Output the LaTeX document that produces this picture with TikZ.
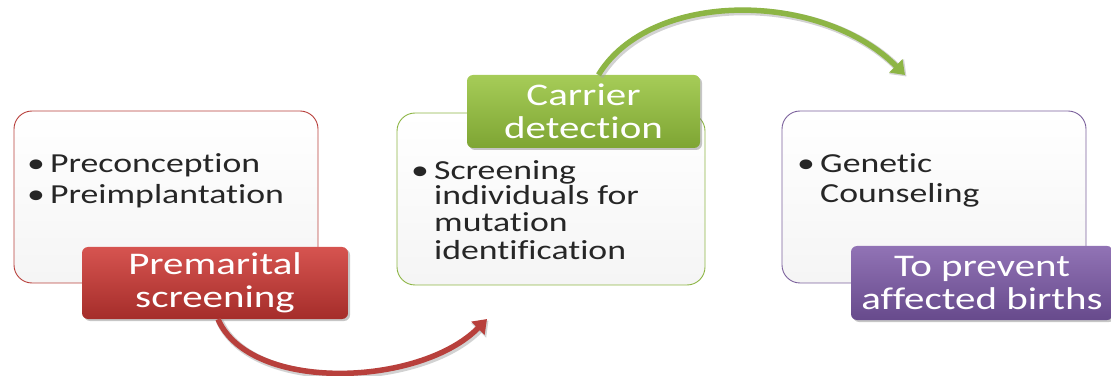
\documentclass[tikz,border=0pt]{standalone}
\usepackage{fontspec}
\setmainfont{Carlito}[FakeStretch=1.3, Ligatures={NoCommon}]
\usetikzlibrary{arrows.meta,shadows}
\definecolor{redT}{HTML}{D65450}
\definecolor{redB}{HTML}{A52D2A}
\definecolor{redL}{HTML}{B8403C}
\definecolor{grnT}{HTML}{A6CC58}
\definecolor{grnB}{HTML}{7EA533}
\definecolor{grnL}{HTML}{8DB545}
\definecolor{purT}{HTML}{9173B5}
\definecolor{purB}{HTML}{674A8C}
\definecolor{purL}{HTML}{7B619C}
\tikzset{
  box/.style={draw, rounded corners=18pt, line width=0.9pt, top color=white, bottom color=black!4},
  lab/.style={rounded corners=6pt, text=white, align=center, inner sep=0pt,
     font=\fontsize{31.5}{33}\selectfont,
     drop shadow={opacity=0.45, shadow xshift=2pt, shadow yshift=-2pt}},
  txt/.style={anchor=base west, inner sep=0pt, font=\fontsize{27.5}{29}\selectfont, text=black!85},
  flow/.style={line width=5.5pt, -{Triangle[length=13pt,width=18pt]}},
  flowshadow/.style={line width=7.5pt, draw=black!35, opacity=0.5, -{Triangle[length=14pt,width=20pt]}}
}
\begin{document}
\begin{tikzpicture}[x=1pt,y=1pt]
\useasboundingbox (0,0) rectangle (1111,375);
% boxes
\draw[box, draw=redL] (14,92) rectangle (318,264);
\draw[box, draw=grnL] (397,90) rectangle (705,262);
\draw[box, draw=purL] (782,92) rectangle (1086,264);
% texts box1
\node[txt] (b1a) at (27,202) {\textbullet};
\node[txt] (t1a) at (50,202) {Preconception};
\node[txt] (b1b) at (27,171) {\textbullet};
\node[txt] (t1b) at (50,171) {Preimplantation};
% texts box2
\node[txt] (b2a) at (411,195) {\textbullet};
\node[txt] (t2a) at (434,195) {Screening};
\node[txt] (t2b) at (434,170) {individuals for};
\node[txt] (t2c) at (434,143) {mutation};
\node[txt] (t2d) at (434,115) {identification};
% texts box3
\node[txt] (b3a) at (797,202) {\textbullet};
\node[txt] (t3a) at (820,202) {Genetic};
\node[txt] (t3b) at (820,172) {Counseling};
% labels
\node[lab, top color=redT, bottom color=redB, minimum width=266pt, minimum height=72pt] (rl) at (215,92) {Premarital\\screening};
\node[lab, top color=grnT, bottom color=grnB, minimum width=233pt, minimum height=73pt] (gl) at (583.5,263.5) {Carrier\\detection};
\node[lab, top color=purT, bottom color=purB, minimum width=262pt, minimum height=74pt] (pl) at (982,92) {To prevent\\affected births};
% connectors
\coordinate (rs) at ([xshift=3pt]rl.south);
\coordinate (re) at (487,56);
\coordinate (gs) at ([xshift=15pt]gl.north);
\coordinate (ge) at (905,300);
\draw[flowshadow, transform canvas={xshift=1.5pt,yshift=-1.5pt}] (rs) .. controls (250,-18) and (420,-12) .. (re);
\draw[flow, draw=redL] (rs) .. controls (250,-18) and (420,-12) .. (re);
\draw[flowshadow, transform canvas={xshift=1.5pt,yshift=-1.5pt}] (gs) .. controls (650,385) and (820,385) .. (ge);
\draw[flow, draw=grnL] (gs) .. controls (650,385) and (820,385) .. (ge);
\end{tikzpicture}
\end{document}
